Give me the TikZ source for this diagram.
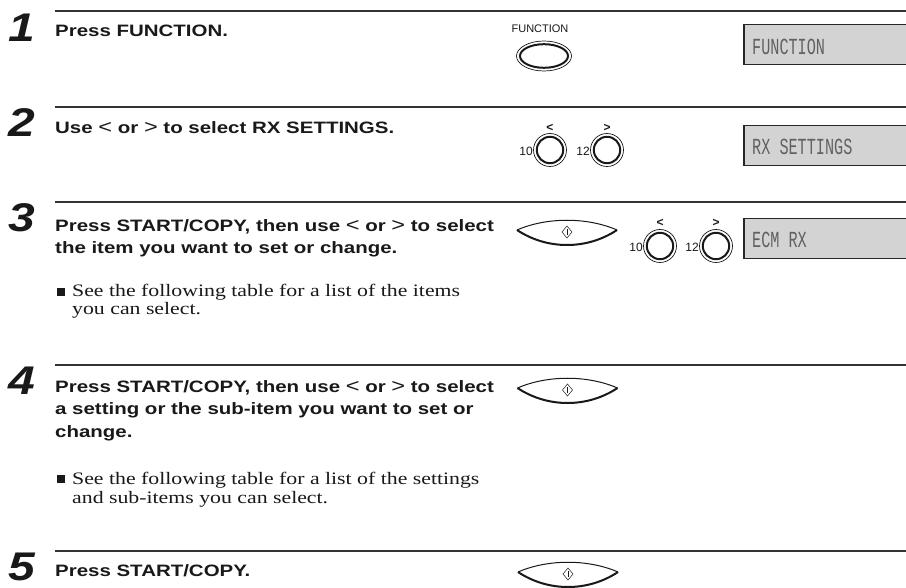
\documentclass[tikz,border=0pt]{standalone}
\usepackage{fontspec}
\setmainfont{Liberation Serif}
\newfontfamily\hdrfont{Liberation Sans}[FakeStretch=1.24]
\newfontfamily\bodyfont{Liberation Serif}[FakeStretch=1.245]
\newfontfamily\numfont{Liberation Sans}[FakeStretch=1.2]
\newfontfamily\lcdfont{Liberation Mono}[FakeStretch=0.66]
\newfontfamily\keyfont{Liberation Sans}
\definecolor{lcdgray}{RGB}{211,211,211}
\definecolor{ink}{RGB}{25,25,25}
\tikzset{
  rulebar/.style={line width=1.4pt, draw=black!80},
  hdr/.style={anchor=base west, inner sep=0pt, text=ink, font=\hdrfont\bfseries\fontsize{16.5}{18}\selectfont},
  body/.style={anchor=base west, inner sep=0pt, text=ink, font=\bodyfont\fontsize{17.5}{18}\selectfont},
  stepnum/.style={anchor=base west, inner sep=0pt, text=ink, font=\numfont\bfseries\itshape\fontsize{40}{40}\selectfont},
  lcdbox/.style={anchor=north west, inner sep=0pt, fill=lcdgray, draw=black!85, line width=1.5pt, minimum width=180pt, minimum height=40pt},
  lcdtext/.style={anchor=west, inner sep=0pt, text=black!62, font=\lcdfont\fontsize{23}{23}\selectfont},
  keylabel/.style={inner sep=0pt, text=ink, font=\keyfont\fontsize{12}{12}\selectfont},
  arrowlabel/.style={inner sep=0pt, text=ink, font=\keyfont\bfseries\fontsize{12}{12}\selectfont},
  bulletsq/.style={fill=ink, inner sep=0pt, minimum size=7.5pt},
  roundkey/.pic={
    \draw[line width=0.7pt, ink] (0,0) circle[radius=16.5pt];
    \draw[line width=2pt, ink] (0,0) circle[radius=13.2pt];
  },
  funckey/.pic={
    \draw[line width=0.7pt, ink] (0,0) ellipse[x radius=27.5pt, y radius=15pt];
    \draw[line width=2pt, ink] (0,0) ellipse[x radius=24pt, y radius=11.8pt];
  },
  startkey/.pic={
    \draw[line width=1pt, ink] (-50,0) .. controls (-20,-13) and (20,-13) .. (50,0);
    \draw[line width=2pt, ink] (-50,0) .. controls (-20,20) and (20,20) .. (50,0);
    \draw[line width=0.5pt, ink] (0,-4) -- (5,2) -- (0,8) -- (-5,2) -- cycle;
    \draw[line width=0.5pt, ink] (0,-1) -- (0,5);
  }
}
\begin{document}
\begin{tikzpicture}[x=1pt,y=-1pt]
\useasboundingbox (0,0) rectangle (906,588);
\fill[white] (0,0) rectangle (906,588);

% separator rules
\foreach \i/\yy in {1/11,2/107,3/202,4/365,5/551}{
  \coordinate (ra\i) at (55,\yy);
  \coordinate (rb\i) at (912,\yy);
  \draw[rulebar] (ra\i) -- (rb\i);
}

% step numbers
\node[stepnum] (n1) at (8,42) {1};
\node[stepnum] (n2) at (8,137) {2};
\node[stepnum] (n3) at (8,232) {3};
\node[stepnum] (n4) at (8,395) {4};
\node[stepnum] (n5) at (8,580) {5};

% step 1
\node[hdr] (t1) at (55,37) {Press FUNCTION.};
\node[keylabel, font=\keyfont\fontsize{11}{11}\selectfont] (fl) at (540,29) {FUNCTION};
\pic (fk) at (544,56) {funckey};
\node[lcdbox] (lcd1) at (743,24) {};
\node[lcdtext] (lt1) at ([xshift=9pt,yshift=-2pt]lcd1.west) {FUNCTION};

% step 2
\node[hdr] (t2) at (55,134) {Use {\mdseries\fontsize{19}{19}\selectfont<} or {\mdseries\fontsize{19}{19}\selectfont>} to select RX SETTINGS.};
\pic (k2a) at (550,150) {roundkey};
\pic (k2b) at (607,150) {roundkey};
\node[keylabel, anchor=east] (l2a) at (533,151) {10};
\node[keylabel, anchor=east] (l2b) at (590,151) {12};
\node[arrowlabel] (a2a) at (550,128) {<};
\node[arrowlabel] (a2b) at (607,128) {>};
\node[lcdbox] (lcd2) at (743,125) {};
\node[lcdtext] (lt2) at ([xshift=9pt,yshift=-1pt]lcd2.west) {RX SETTINGS};

% step 3
\node[hdr] (t3a) at (55,232) {Press START/COPY, then use {\mdseries\fontsize{19}{19}\selectfont<} or {\mdseries\fontsize{19}{19}\selectfont>} to select};
\node[hdr] (t3b) at (55,254) {the item you want to set or change.};
\node[bulletsq] (b3) at (61,292) {};
\node[body] (s3a) at (72,297) {See the following table for a list of the items};
\node[body] (s3b) at (72,315) {you can select.};
\pic (sk3) at (567,230) {startkey};
\pic (k3a) at (660,246) {roundkey};
\pic (k3b) at (716,246) {roundkey};
\node[keylabel, anchor=east] (l3a) at (643,247) {10};
\node[keylabel, anchor=east] (l3b) at (699,247) {12};
\node[arrowlabel] (a3a) at (660,223) {<};
\node[arrowlabel] (a3b) at (716,223) {>};
\node[lcdbox] (lcd3) at (743,218) {};
\node[lcdtext] (lt3) at ([xshift=9pt,yshift=-1pt]lcd3.west) {ECM RX};

% step 4
\node[hdr] (t4a) at (55,392) {Press START/COPY, then use {\mdseries\fontsize{19}{19}\selectfont<} or {\mdseries\fontsize{19}{19}\selectfont>} to select};
\node[hdr] (t4b) at (55,414) {a setting or the sub-item you want to set or};
\node[hdr] (t4c) at (55,437) {change.};
\node[bulletsq] (b4) at (61,479) {};
\node[body] (s4a) at (72,484) {See the following table for a list of the settings};
\node[body] (s4b) at (72,503) {and sub-items you can select.};
\pic (sk4) at (567.5,388) {startkey};

% step 5
\node[hdr] (t5) at (55,576) {Press START/COPY.};
\pic (sk5) at (568,572) {startkey};
\end{tikzpicture}
\end{document}
